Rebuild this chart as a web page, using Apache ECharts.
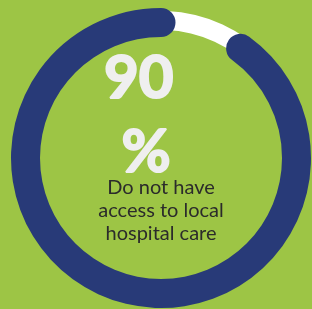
<!DOCTYPE html>
<html>
<head>
<meta charset="utf-8">
<script src="https://cdn.jsdelivr.net/npm/echarts@6/dist/echarts.min.js"></script>
<style>
  html, body { margin: 0; padding: 0; background: #9dc545; }
  #chart { width: 312px; height: 309px; }
</style>
</head>
<body>
<div id="chart"></div>
<script>
// share of respondents, max of the ring
const percentValue = [90]
const maxValue = 100
const captionLines = ['Do not have', 'access to local', 'hospital care']

const chart = echarts.init(document.getElementById('chart'))

const option = {
  backgroundColor: '#9dc545',
  series: [
    {
      // white track
      type: 'gauge',
      center: [161, 158],
      radius: 147,
      startAngle: 54,
      endAngle: -306,
      min: 0,
      max: maxValue,
      silent: true,
      axisLine: { lineStyle: { width: 19, color: [[1, '#ffffff']] } },
      pointer: { show: false },
      axisTick: { show: false },
      splitLine: { show: false },
      axisLabel: { show: false },
      title: { show: false },
      detail: { show: false },
      data: [{ value: 0 }]
    },
    {
      type: 'gauge',
      center: [161, 158],
      radius: 150,
      startAngle: 54,
      endAngle: -306,
      min: 0,
      max: maxValue,
      axisLine: { show: false, lineStyle: { width: 29 } },
      progress: {
        show: true,
        width: 29,
        roundCap: true,
        itemStyle: { color: '#283a78' }
      },
      pointer: { show: false },
      axisTick: { show: false },
      splitLine: { show: false },
      axisLabel: { show: false },
      anchor: { show: false },
      title: {
        show: true,
        offsetCenter: [0, 53],
        color: '#2b2b2b',
        fontFamily: 'Lato',
        fontSize: 20,
        lineHeight: 23
      },
      detail: {
        show: true,
        offsetCenter: [-15, -42],
        color: '#efefef',
        fontFamily: 'Lato',
        fontWeight: 'bold',
        fontSize: 60,
        lineHeight: 74,
        // fake a heavier weight
        textBorderColor: '#efefef',
        textBorderWidth: 2,
        formatter: v => v + ' \n%'
      },
      data: percentValue.map(v => ({ value: v, name: captionLines.join('\n') }))
    }
  ]
}

chart.setOption(option)
</script>
</body>
</html>
